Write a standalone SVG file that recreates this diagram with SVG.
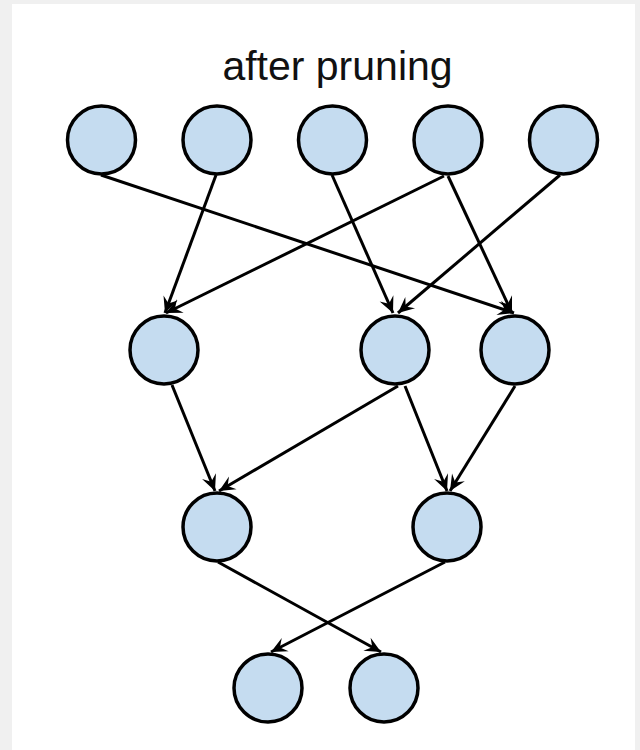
<svg xmlns="http://www.w3.org/2000/svg" width="640" height="750" viewBox="0 0 640 750">
<style>
.node{fill:#c5dcf0;stroke:#000;stroke-width:3.5}
.edge{fill:none;stroke:#000;stroke-width:3;marker-end:url(#arr)}
.title{font-family:"Liberation Sans",Arial,sans-serif;font-size:41px;fill:#111;text-anchor:middle}
</style>
<defs>
<marker id="arr" markerUnits="userSpaceOnUse" markerWidth="18" markerHeight="16" refX="16" refY="7.5" orient="auto" overflow="visible">
<path d="M0,0 L16,7.5 L0,15 L6,7.5 z" fill="#000"/>
</marker>
</defs>
<rect x="0" y="0" width="640" height="750" fill="#f0f0f0"/>
<rect x="12" y="4" width="623" height="746" fill="#fff"/>
<text class="title" x="337.5" y="80">after pruning</text>
<g id="connectors">
<line class="edge" x1="101" y1="175" x2="514" y2="313"/>
<line class="edge" x1="216" y1="175" x2="165" y2="313"/>
<line class="edge" x1="332" y1="175" x2="393" y2="313"/>
<line class="edge" x1="444" y1="176" x2="166" y2="313"/>
<line class="edge" x1="448" y1="176" x2="512" y2="313"/>
<line class="edge" x1="560" y1="175" x2="398" y2="313"/>
<line class="edge" x1="172" y1="385" x2="215" y2="491"/>
<line class="edge" x1="398" y1="386" x2="219" y2="491"/>
<line class="edge" x1="405" y1="386" x2="447" y2="491"/>
<line class="edge" x1="515" y1="386" x2="450" y2="491"/>
<line class="edge" x1="218" y1="562" x2="381" y2="652"/>
<line class="edge" x1="445" y1="562" x2="271" y2="652"/>
</g>
<g id="t1"><circle class="node" cx="101.5" cy="140" r="34"/></g>
<g id="t2"><circle class="node" cx="217" cy="140" r="34"/></g>
<g id="t3"><circle class="node" cx="332.5" cy="140" r="34"/></g>
<g id="t4"><circle class="node" cx="448" cy="140" r="34"/></g>
<g id="t5"><circle class="node" cx="563.5" cy="140" r="34"/></g>
<g id="m1"><circle class="node" cx="164" cy="350" r="34"/></g>
<g id="m2"><circle class="node" cx="395" cy="350" r="34"/></g>
<g id="m3"><circle class="node" cx="515" cy="350" r="34"/></g>
<g id="l1"><circle class="node" cx="217" cy="527" r="34"/></g>
<g id="l2"><circle class="node" cx="447" cy="527" r="34"/></g>
<g id="b1"><circle class="node" cx="268" cy="688" r="34"/></g>
<g id="b2"><circle class="node" cx="384" cy="688" r="34"/></g>
</svg>
